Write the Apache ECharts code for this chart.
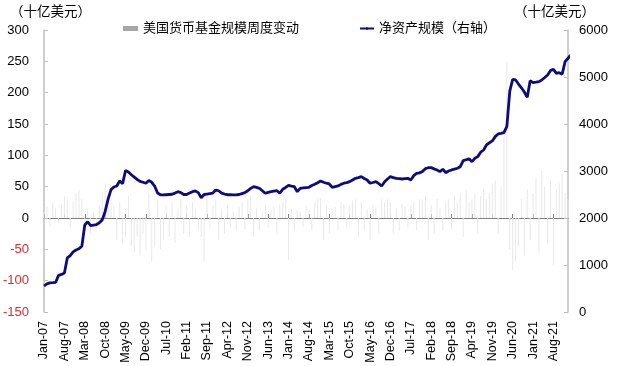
<!DOCTYPE html>
<html><head><meta charset="utf-8">
<script src="https://cdn.jsdelivr.net/npm/echarts@6/dist/echarts.min.js"></script>
<style>html,body{margin:0;padding:0;background:#fff}#c{width:618px;height:366px}</style>
</head><body><div id="c"></div>
<script>
// Monthly categories Jan-07 .. Jan-22
const months = ['Jan','Feb','Mar','Apr','May','Jun','Jul','Aug','Sep','Oct','Nov','Dec'];
const categories = [];
for (let y = 2007; y <= 2022; y++) {
  for (let m = 0; m < 12; m++) {
    if (y === 2022 && m > 0) break;
    categories.push(months[m] + '-' + String(y).slice(2));
  }
}
const barName = '美国货币基金规模周度变动';
const lineName = '净资产规模（右轴）';
const unitLabel = '（十亿美元）';
const leftTicks = [-150, 300, 50];
const rightTicks = [0, 6000, 1000];

// weekly change (billion USD), left axis
const weeklyChange = [
  10, 18, -12, 25, 15, -8, 22, 35, 30, -15, 28, 40,
  45, 30, -20, 15, -25, 10, -18, 20, 40, 55, 35, 30,
  20, -35, 25, -40, -30, 35, -45, -55, -30, -60, -25, -50,
  40, -70, -45, 30, -50, -35, 20, -30, 25, -40, 15, 30,
  -25, 20, -30, 25, 15, -20, -30, -70, 35, -15, 20, 30,
  -35, 15, -25, 20, -15, 10, -20, 18, 25, -18, 30, 35,
  -30, 15, -20, 10, 20, -15, 12, 18, -25, 22, 25, 30,
  -67, 15, -20, 12, 10, -15, 18, 12, -20, 25, 30, 32,
  -35, 20, -25, 15, 18, -20, 25, 22, -15, 20, 28, 30,
  -30, 25, -20, 15, -35, 20, 18, -25, 30, 25, 30, 25,
  -25, 15, -20, 22, 18, -15, 20, 25, -20, 30, 28, 35,
  -35, 20, -25, 30, 15, -20, 25, 30, -18, 35, 25, 40,
  -30, 45, 25, 30, 40, -25, 35, 45, 30, 40, 55, 60,
  -25, 50, 130, 250, -50, -83, -70, -45, 30, -60, 45, -35,
  40, 65, -55, 75, 50, -40, 60, -75, 45, 55, 70, 40,
  30
];
// net assets (billion USD), right axis
const netAssets = [
  553, 600, 620, 625, 632, 780, 800, 830, 1150, 1200, 1280, 1320,
  1345, 1400, 1850, 1920, 1840, 1850, 1860, 1900, 1960, 2140, 2400, 2600,
  2660, 2680, 2790, 2730, 3010, 2980, 2920, 2870, 2820, 2780, 2760, 2740,
  2800, 2760, 2680, 2530, 2495, 2490, 2495, 2500, 2505, 2530, 2560, 2540,
  2500, 2500, 2530, 2560, 2575, 2540, 2430, 2500, 2510, 2520, 2530, 2595,
  2580, 2530, 2510, 2495, 2495, 2492, 2490, 2500, 2520, 2539, 2580, 2630,
  2666, 2650, 2632, 2580, 2526, 2545, 2560, 2570, 2580, 2530, 2611, 2650,
  2696, 2680, 2666, 2560, 2632, 2640, 2648, 2653, 2690, 2717, 2750, 2788,
  2760, 2740, 2724, 2653, 2668, 2681, 2715, 2740, 2752, 2773, 2810, 2845,
  2860, 2879, 2840, 2809, 2739, 2755, 2773, 2730, 2681, 2773, 2830, 2879,
  2860, 2845, 2838, 2830, 2838, 2845, 2809, 2900, 2951, 2960, 2990, 3050,
  3070, 3071, 3045, 3022, 2986, 3037, 2964, 3000, 3022, 3040, 3058, 3092,
  3220, 3240, 3260, 3199, 3270, 3306, 3400, 3447, 3554, 3600, 3640, 3731,
  3788, 3800, 3815, 3950, 4700, 4950, 4937, 4850, 4770, 4680, 4570, 4920,
  4880, 4890, 4902, 4937, 4990, 5044, 5140, 5163, 5078, 5092, 5060, 5327,
  5398, 5469, 5469
];

const FONT = '"Liberation Sans", Arial, "Noto Sans CJK SC", sans-serif';
const chart = echarts.init(document.getElementById('c'));
chart.setOption({
  animation: false,
  backgroundColor: '#fff',
  textStyle: { fontFamily: FONT },
  grid: { left: 44, right: 50, top: 30, bottom: 54 },
  legend: [
    { data: [{ name: barName, icon: 'rect', itemStyle: { color: '#a6a6a6', opacity: 1 } }],
      left: 118, top: 17, itemWidth: 15, itemHeight: 5, itemGap: 4,
      textStyle: { fontSize: 13, color: '#000', fontFamily: FONT } },
    { data: [{ name: lineName }], left: 354, top: 17, itemWidth: 14, itemHeight: 3,
      textStyle: { fontSize: 13, color: '#000', fontFamily: FONT } }
  ],
  graphic: [
    { type: 'text', left: 10, top: 6, style: { text: unitLabel, fill: '#000', font: '13.5px ' + FONT } },
    { type: 'text', left: 514, top: 6, style: { text: unitLabel, fill: '#000', font: '13.5px ' + FONT } }
  ],
  xAxis: [
    { type: 'category', data: categories, boundaryGap: false, position: 'bottom',
      axisLine: { show: false, onZero: false }, axisTick: { show: false },
      axisLabel: { rotate: 90, interval: 6, fontSize: 12.5, color: '#000', margin: 9,
        formatter: function (v, i) { return i <= 175 ? v : ''; } } },
    { type: 'category', data: categories, boundaryGap: false, position: 'top',
      axisLine: { show: true, onZero: true, onZeroAxisIndex: 0, lineStyle: { color: '#808080', width: 1 } },
      axisTick: { show: true, interval: 6, inside: false, length: 4, lineStyle: { color: '#808080' } },
      axisLabel: { show: false } }
  ],
  yAxis: [
    { type: 'value', min: leftTicks[0], max: leftTicks[1], interval: leftTicks[2], position: 'left',
      splitLine: { show: false },
      axisLine: { show: true, lineStyle: { color: '#bfbfbf', width: 1.5 } },
      axisTick: { show: true, inside: true, length: 4, lineStyle: { color: '#bfbfbf' } },
      axisLabel: { fontSize: 13, margin: 15,
        color: function (v) { return Number(v) < 0 ? '#e5262b' : '#000'; } } },
    { type: 'value', min: rightTicks[0], max: rightTicks[1], interval: rightTicks[2], position: 'right',
      splitLine: { show: false },
      axisLine: { show: true, lineStyle: { color: '#bfbfbf', width: 1.5 } },
      axisTick: { show: true, inside: true, length: 4, lineStyle: { color: '#bfbfbf' } },
      axisLabel: { fontSize: 13, margin: 11, color: '#000', formatter: function (v) { return String(v); } } }
  ],
  series: [
    { name: barName, type: 'bar', xAxisIndex: 0, yAxisIndex: 0, data: weeklyChange,
      barWidth: 1, itemStyle: { color: '#e8e8e8' } },
    { name: lineName, type: 'line', xAxisIndex: 0, yAxisIndex: 1, data: netAssets,
      showSymbol: false, symbol: 'none', lineStyle: { color: '#0c0c7a', width: 2.8 },
      itemStyle: { color: '#0c0c7a' } }
  ]
});
</script></body></html>
